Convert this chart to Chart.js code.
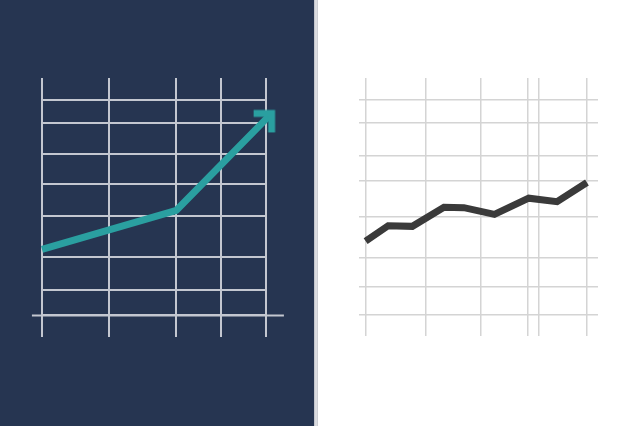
<!DOCTYPE html>
<html>
<head>
<meta charset="utf-8">
<script src="https://cdn.jsdelivr.net/npm/chart.js@4/dist/chart.umd.min.js"></script>
<style>
  html, body { margin: 0; padding: 0; }
  #wrap { position: relative; width: 640px; height: 426px; background: #ffffff; overflow: hidden; }
  #navy { position: absolute; left: 0; top: 0; width: 314px; height: 426px; background: #263551; }
  #rule { position: absolute; left: 314px; top: 0; width: 4px; height: 426px; background: linear-gradient(90deg, #b9bcc4, #e4e5e8 50%, #c4c6cc); }
  canvas { position: absolute; left: 0; top: 0; }
</style>
</head>
<body>
<div id="wrap">
  <div id="navy"></div>
  <div id="rule"></div>
  <canvas id="left" width="640" height="426"></canvas>
  <canvas id="right" width="640" height="426"></canvas>
</div>
<script>
// ── left panel (navy, teal arrow) ─────────
const leftGridX = [0, 30, 60, 80, 100];
const leftGridY = [0, 12, 27, 46, 61, 75, 89, 100];
const leftArrowX = [0, 60, 102.5];
const leftArrowY = [30.6, 48.7, 93.6];
const leftBaseX = [-4.5, 108];
const leftBaseY = [0, 0];

// ── right panel (white, dark line) ────────
const rightGridX = [0, 27, 52, 73.4, 78.4, 100];
const rightGridY = [0, 13, 26.5, 45.5, 62.3, 73.8, 89, 100];
const rightLineX = [0, 10.2, 21.1, 35.4, 44.4, 58.2, 73.7, 86.5, 100];
const rightLineY = [34.1, 41.3, 41.0, 49.9, 49.7, 46.6, 54.1, 52.5, 61.4];

const pts = (xs, ys) => xs.map((x, i) => ({ x, y: ys[i] }));
const fixedTicks = vals => axis => { axis.ticks = vals.map(v => ({ value: v })); };

// chevron arrowhead used as the last point's style
const chevron = (() => {
  const cv = document.createElement('canvas');
  cv.width = 60; cv.height = 60;
  const g = cv.getContext('2d');
  g.strokeStyle = '#2a9fa0';
  g.lineWidth = 7;
  g.lineJoin = 'miter';
  g.lineCap = 'butt';
  g.beginPath();
  g.moveTo(30 - 18, 30);
  g.lineTo(30, 30);
  g.lineTo(30, 30 + 19);
  g.stroke();
  return cv;
})();

const axis = (min, max, vals, color, width) => ({
  type: 'linear', min, max,
  afterBuildTicks: fixedTicks(vals),
  ticks: { display: false },
  border: { display: false },
  grid: { color, lineWidth: width, drawTicks: false }
});

const base = pad => ({
  responsive: false,
  animation: false,
  layout: { padding: pad },
  plugins: { legend: { display: false }, tooltip: { enabled: false } },
  events: []
});

new Chart(document.getElementById('left'), {
  type: 'scatter',
  data: {
    datasets: [
      {
        data: pts(leftBaseX, leftBaseY), showLine: true,
        borderColor: '#c3c7d0', borderWidth: 2, pointRadius: 0, clip: false
      },
      {
        data: pts(leftArrowX, leftArrowY), showLine: true,
        borderColor: '#2a9fa0', borderWidth: 7, borderJoinStyle: 'round',
        pointRadius: leftArrowX.map((_, i) => i === leftArrowX.length - 1 ? 15 : 0),
        pointBorderWidth: 0,
        pointStyle: leftArrowX.map((_, i) => i === leftArrowX.length - 1 ? chevron : 'circle'),
        clip: false
      }
    ]
  },
  options: {
    ...base({ left: 42, right: 374, top: 78, bottom: 89 }),
    scales: {
      x: axis(0, 100, leftGridX, '#c3c7d0', 2),
      y: axis(-10, 110, leftGridY, '#c3c7d0', 2)
    }
  }
});

new Chart(document.getElementById('right'), {
  type: 'scatter',
  data: {
    datasets: [{
      data: pts(rightLineX, rightLineY), showLine: true,
      borderColor: '#3a3a3a', borderWidth: 7, borderJoinStyle: 'miter',
      pointRadius: 0, clip: false
    }]
  },
  options: {
    ...base({ left: 359, right: 42, top: 78, bottom: 90 }),
    scales: {
      x: axis(-3, 105, rightGridX, '#d4d4d4', 1.5),
      y: axis(-10, 110, rightGridY, '#d4d4d4', 1.5)
    }
  }
});
</script>
</body>
</html>
